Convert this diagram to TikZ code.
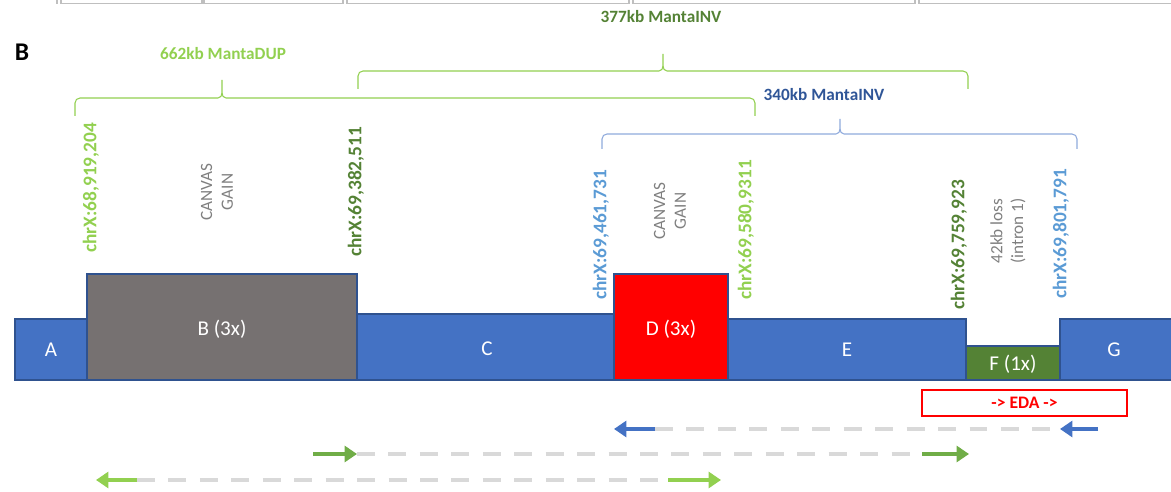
\documentclass[tikz,border=0pt]{standalone}
\usepackage{fontspec}
\setmainfont{Carlito}
\usetikzlibrary{arrows.meta}
\definecolor{blk}{HTML}{4472C4}
\definecolor{blkedge}{HTML}{2F528F}
\definecolor{gblk}{HTML}{767171}
\definecolor{rblk}{HTML}{FF0000}
\definecolor{dgreen}{HTML}{548235}
\definecolor{lgreen}{HTML}{92D050}
\definecolor{mgreen}{HTML}{70AD47}
\definecolor{lblue}{HTML}{5B9BD5}
\definecolor{navy}{HTML}{2F5597}
\definecolor{bracebl}{HTML}{8FAADC}
\definecolor{dashgray}{HTML}{D9D9D9}
\definecolor{txtgray}{HTML}{7F7F7F}
\definecolor{topgray}{HTML}{BFBFBF}
\newcommand\mybrace[7]{%
  \draw[#1, line width=0.6pt] (#2,#7) -- (#2,#5+5) to[out=90,in=180] (#2+5,#5) -- (#4-4,#5) to[out=0,in=-90] (#4,#5-5) -- (#4,#6);
  \draw[#1, line width=0.6pt] (#3,#7) -- (#3,#5+5) to[out=90,in=0] (#3-5,#5) -- (#4+4,#5) to[out=180,in=-90] (#4,#5-5);
}
\tikzset{
  blueblk/.style={fill=blk, draw=blkedge, line width=0.6pt},
  blklbl/.style={text=white, inner sep=0, font=\fontsize{12pt}{14pt}\selectfont},
  chrlbl/.style={rotate=90, anchor=west, inner sep=0, font=\bfseries\fontsize{11pt}{13pt}\selectfont},
  graylbl/.style={rotate=90, align=center, inner sep=0, text=txtgray, font=\fontsize{9.8pt}{11.9pt}\selectfont},
  bracelbl/.style={inner sep=0, font=\bfseries\fontsize{9.8pt}{11pt}\selectfont},
  dashline/.style={dashgray, line width=2.6pt, dash pattern=on 10.2pt off 7.7pt},
  arr/.style={line width=2.8pt, -{Triangle[length=7pt, width=9pt]}},
  topbox/.style={topgray, line width=0.8pt}
}
\begin{document}
\begin{tikzpicture}[x=0.02cm, y=-0.02cm]
\useasboundingbox (0,0) rectangle (1171,492);
% top strip (cut-off cells)
\draw[topbox] (57,-2) -- (57,4);
\draw[topbox] (61,-2) -- (61,3.5) -- (202,3.5) -- (202,-2);
\draw[topbox] (204,-2) -- (204,3.5) -- (343,3.5) -- (343,-2);
\draw[topbox] (347,-2) -- (347,3.5) -- (629,3.5) -- (629,-2);
\draw[topbox] (633,-2) -- (633,3.5) -- (915,3.5) -- (915,-2);
\draw[topbox] (919,-2) -- (919,3.5) -- (1175,3.5);
% panel letter
\node[inner sep=0, font=\bfseries\fontsize{14.5pt}{16pt}\selectfont] (pB) at (22,52) {B};
% brace labels
\node[bracelbl, text=dgreen] (l377) at (661,17) {377kb MantaINV};
\node[bracelbl, text=lgreen] (l662) at (223,54) {662kb MantaDUP};
\node[bracelbl, text=navy] (l340) at (824,95) {340kb MantaINV};
% braces
\mybrace{lgreen}{358}{968}{663}{71}{54}{89}
\mybrace{lgreen}{75}{755}{222}{98}{80}{116}
\mybrace{bracebl}{602}{1077}{840}{134}{119}{149}
% blocks
\path[blueblk] (15,319) rectangle (87,380);
\path[blueblk] (357,314) rectangle (614,380);
\path[blueblk] (728,319) rectangle (966,380);
\path[blueblk] (1060,319) rectangle (1175,380);
\path[fill=gblk, draw=blkedge, line width=0.6pt] (87,274) rectangle (357,380);
\path[fill=rblk, draw=blkedge, line width=0.6pt] (614,274) rectangle (728,380);
\path[fill=dgreen, draw=blkedge, line width=0.6pt] (966,346) rectangle (1060,380);
\node[blklbl] (nA) at (51,350) {A};
\node[blklbl] (nB) at (222,329) {B (3x)};
\node[blklbl] (nC) at (487,349) {C};
\node[blklbl] (nD) at (671,329) {D (3x)};
\node[blklbl] (nE) at (847,350) {E};
\node[blklbl] (nF) at (1013,364) {F (1x)};
\node[blklbl] (nG) at (1114,350) {G};
% breakpoint labels
\node[chrlbl, text=lgreen] (c1) at (91,253) {chrX:68,919,204};
\node[chrlbl, text=dgreen] (c2) at (356,257) {chrX:69,382,511};
\node[chrlbl, text=lblue] (c3) at (601,300) {chrX:69,461,731};
\node[chrlbl, text=lgreen] (c4) at (746,300) {chrX:69,580,9311};
\node[chrlbl, text=dgreen] (c5) at (959,310) {chrX:69,759,923};
\node[chrlbl, text=lblue] (c6) at (1061,299) {chrX:69,801,791};
% gray annotations
\node[graylbl] (g1) at (217,192) {CANVAS\\GAIN};
\node[graylbl] (g2) at (670,211) {CANVAS\\GAIN};
\node[graylbl] (g3) at (1008,231) {42kb loss\\(intron 1)};
% EDA box
\node[draw=rblk, line width=0.6pt, minimum width=205*0.02cm, minimum height=26*0.02cm, inner sep=0,
      text=rblk, font=\bfseries\fontsize{10pt}{12pt}\selectfont] (eda) at (1024.5,403) {-> EDA ->};
% reads
\coordinate (r1a) at (614,429); \coordinate (r1b) at (655,429);
\coordinate (r1c) at (1060,429); \coordinate (r1d) at (1098,429);
\coordinate (r2a) at (313,454); \coordinate (r2b) at (357,454);
\coordinate (r2c) at (922,454); \coordinate (r2d) at (969,454);
\coordinate (r3a) at (96,480); \coordinate (r3b) at (137,480);
\coordinate (r3c) at (668,480); \coordinate (r3d) at (721,480);
\draw[dashline] (r1b) -- (r1c);
\draw[dashline] (r2b) -- (r2c);
\draw[dashline] (r3b) -- (r3c);
\draw[arr, blk] (r1b) -- (r1a);
\draw[arr, blk] (r1d) -- (r1c);
\draw[arr, mgreen] (r2a) -- (r2b);
\draw[arr, mgreen] (r2c) -- (r2d);
\draw[arr, lgreen] (r3b) -- (r3a);
\draw[arr, lgreen] (r3c) -- (r3d);
\end{tikzpicture}
\end{document}
